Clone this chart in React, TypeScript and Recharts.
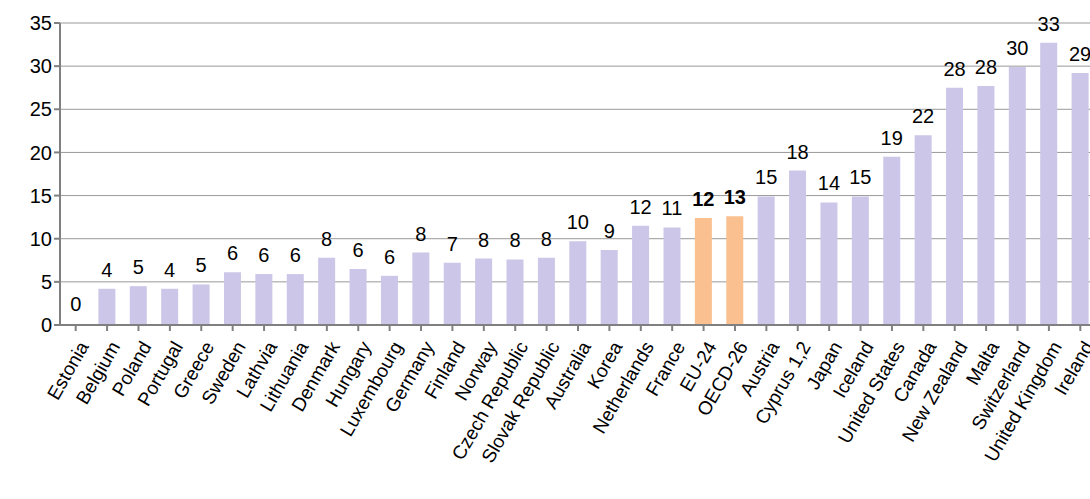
import { BarChart, Bar, XAxis, YAxis, CartesianGrid, Cell, LabelList } from 'recharts'

const countries = [
  'Estonia', 'Belgium', 'Poland', 'Portugal', 'Greece', 'Sweden', 'Lathvia', 'Lithuania',
  'Denmark', 'Hungary', 'Luxembourg', 'Germany', 'Finland', 'Norway', 'Czech Republic',
  'Slovak Republic', 'Australia', 'Korea', 'Netherlands', 'France', 'EU-24', 'OECD-26',
  'Austria', 'Cyprus 1,2', 'Japan', 'Iceland', 'United States', 'Canada', 'New Zealand',
  'Malta', 'Switzerland', 'United Kingdom', 'Ireland',
]
const values = [
  0, 4.2, 4.5, 4.2, 4.7, 6.1, 5.9, 5.9, 7.8, 6.5, 5.7, 8.4, 7.2, 7.7, 7.6, 7.8, 9.7, 8.7,
  11.5, 11.3, 12.4, 12.6, 14.9, 17.9, 14.2, 14.9, 19.5, 22, 27.5, 27.7, 29.9, 32.7, 29.2,
]
const labels = [
  0, 4, 5, 4, 5, 6, 6, 6, 8, 6, 6, 8, 7, 8, 8, 8, 10, 9, 12, 11, 12, 13, 15, 18, 14, 15, 19,
  22, 28, 28, 30, 33, 29,
]
const highlighted = ['EU-24', 'OECD-26']
const yTicks = [0, 5, 10, 15, 20, 25, 30, 35]

const data = countries.map((name, i) => ({ name, value: values[i], label: labels[i] }))

const font = 'Arial, "Liberation Sans", sans-serif'

function XTick({ x, y, payload }: any) {
  const i = countries.indexOf(payload.value)
  return (
    <g>
      {values[i] === 0 && (
        // zero-height bars get no LabelList entry, so draw their value here
        <text x={x} y={y - 22} textAnchor="middle" fontSize={20} fontFamily={font} fill="#000">
          {labels[i]}
        </text>
      )}
      <text
        x={x + 8}
        y={y + 10}
        transform={`rotate(-60 ${x + 8} ${y + 10})`}
        textAnchor="end"
        dominantBaseline="central"
        fontSize={19}
        fontFamily={font}
        fill="#000"
      >
        {payload.value}
      </text>
    </g>
  )
}

function BarLabel({ x, y, width, value }: any) {
  const i = countries.indexOf(value)
  const bold = highlighted.includes(value)
  return (
    <text
      x={x + width / 2}
      y={y - 12}
      textAnchor="middle"
      fontSize={20}
      fontWeight={bold ? 'bold' : 'normal'}
      fontFamily={font}
      fill="#000"
    >
      {labels[i]}
    </text>
  )
}

export default function App() {
  return (
    <div style={{ position: 'fixed', left: 0, top: 0, width: 1090, height: 499, overflow: 'hidden', background: '#fff' }}>
      <BarChart
        width={1130}
        height={499}
        data={data}
        margin={{ top: 23, right: 34, left: 0, bottom: 0 }}
      >
        <CartesianGrid vertical={false} stroke="#999" />
        <XAxis
          dataKey="name"
          interval={0}
          tick={<XTick />}
          height={174}
          stroke="#808080"
          strokeWidth={2}
          tickSize={6}
        />
        <YAxis
          domain={[0, 35]}
          ticks={yTicks}
          width={60}
          stroke="#808080"
          strokeWidth={2}
          tickSize={6}
          tick={{ fontSize: 20, fill: '#000', fontFamily: font }}
        />
        <Bar dataKey="value" barSize={17} isAnimationActive={false}>
          {data.map((d) => (
            <Cell key={d.name} fill={highlighted.includes(d.name) ? '#FAC090' : '#CCC6E8'} />
          ))}
          <LabelList dataKey="name" content={<BarLabel />} />
        </Bar>
      </BarChart>
    </div>
  )
}
